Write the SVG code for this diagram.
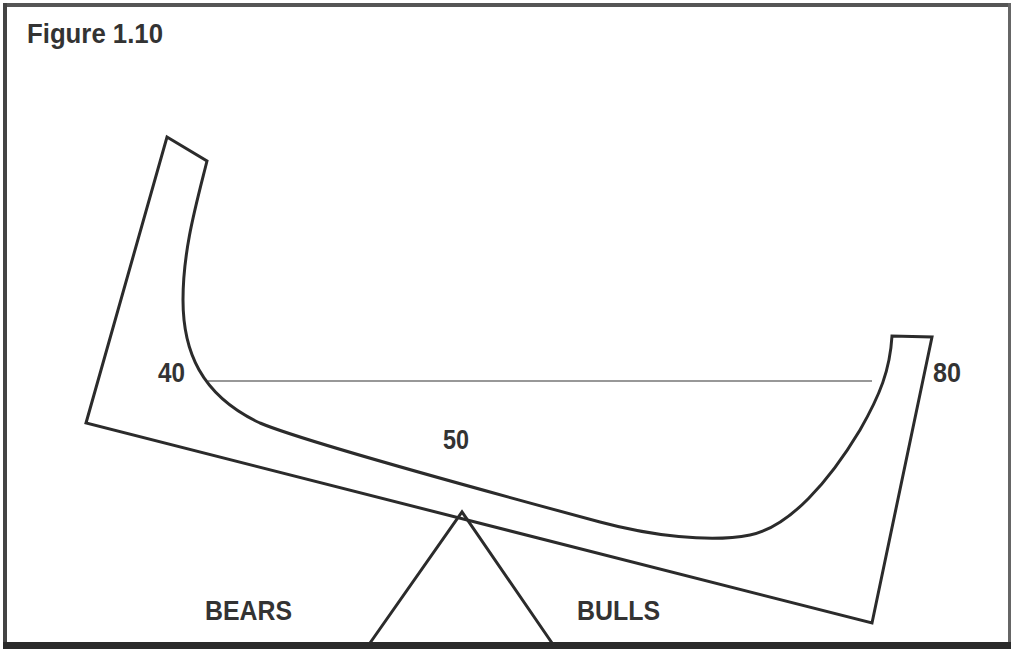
<svg xmlns="http://www.w3.org/2000/svg" width="1011" height="649" viewBox="0 0 1011 649">
  <style>
    .shape { fill: #ffffff; stroke: #2b2b2b; stroke-width: 3; stroke-linejoin: miter; }
    .thin { fill: none; stroke: #333333; stroke-width: 1.2; }
    .lbl { font-family: "Liberation Sans", Arial, sans-serif; font-weight: bold; font-size: 28px; fill: #333333; }
  </style>
  <rect x="0" y="0" width="1011" height="649" fill="#ffffff"/>
  <g id="frame">
    <rect x="3" y="3" width="1008" height="4" fill="#555555"/>
    <rect x="3" y="3" width="4" height="646" fill="#444444"/>
    <rect x="1008" y="3" width="3" height="646" fill="#666666"/>
    <rect x="3" y="642" width="1008" height="7" fill="#2a2a2a"/>
  </g>
  <g id="title">
    <text class="lbl" x="27" y="43" textLength="136" lengthAdjust="spacingAndGlyphs">Figure 1.10</text>
  </g>
  <g id="seesaw">
    <path class="shape" d="M207,161 C196,205 183,250 183,300 C183,350 200,395 260,423 C300,440 500,495 600,522 C650,535.5 710,543 750,535 C790,527 830,480 860,430 C880,395 890,370 892,336 L932,337 L872,623 L86,423 L167,137 Z"/>
  </g>
  <g id="connectors">
    <line class="thin" x1="208" y1="381" x2="872" y2="381"/>
  </g>
  <g id="fulcrum">
    <polyline class="shape" fill="none" style="fill:none" points="370,643 462,512 552,643"/>
  </g>
  <g id="label-40"><text class="lbl" x="158" y="382" textLength="27" lengthAdjust="spacingAndGlyphs">40</text></g>
  <g id="label-50"><text class="lbl" x="443" y="449" textLength="26" lengthAdjust="spacingAndGlyphs">50</text></g>
  <g id="label-80"><text class="lbl" x="933" y="382" textLength="28" lengthAdjust="spacingAndGlyphs">80</text></g>
  <g id="label-bears"><text class="lbl" x="205" y="620" textLength="87" lengthAdjust="spacingAndGlyphs">BEARS</text></g>
  <g id="label-bulls"><text class="lbl" x="577" y="620" textLength="83" lengthAdjust="spacingAndGlyphs">BULLS</text></g>
</svg>
